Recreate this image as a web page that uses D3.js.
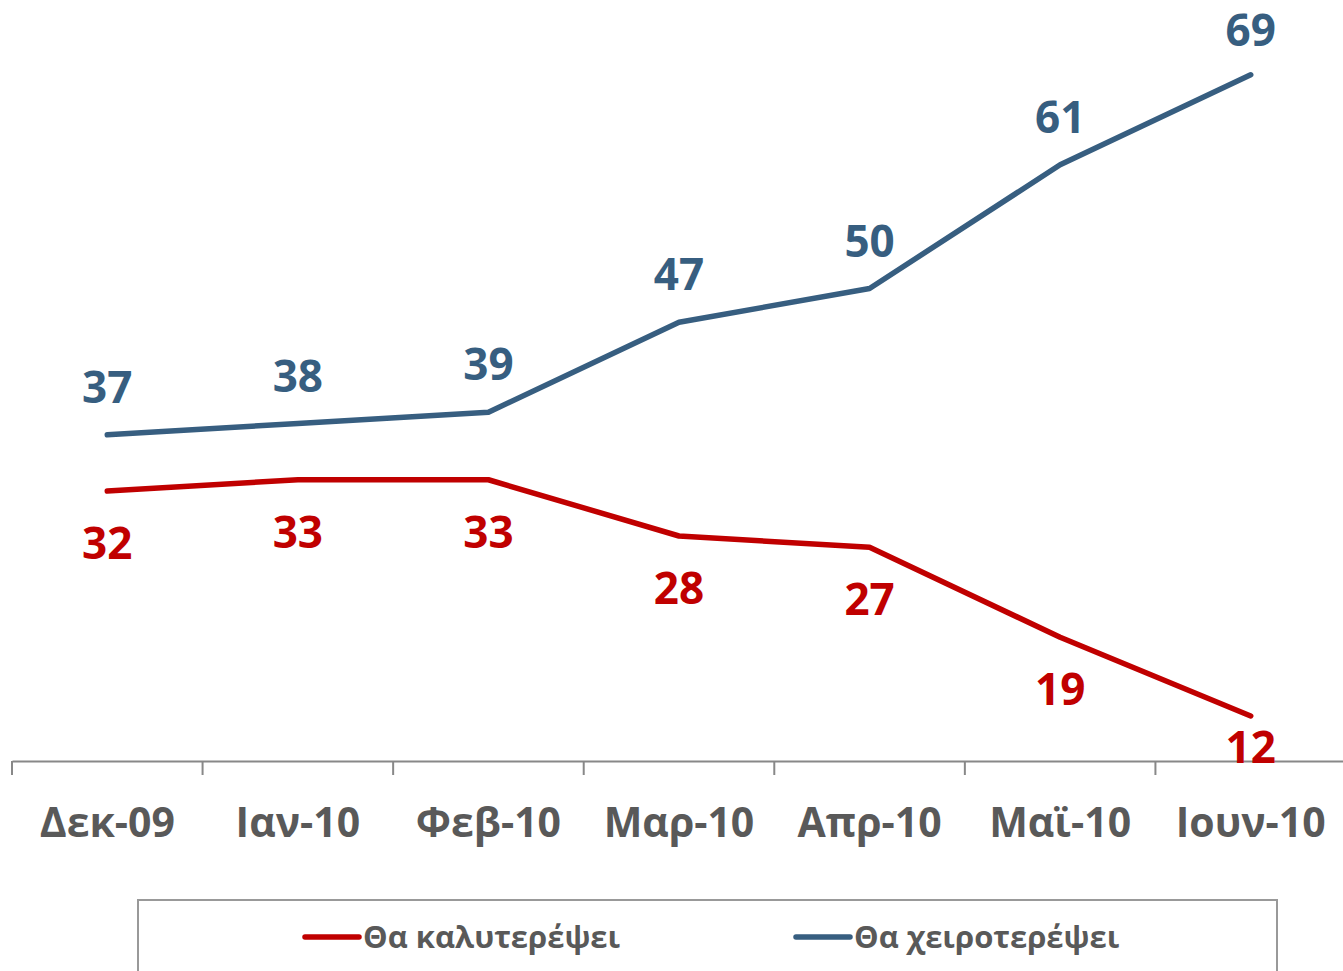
<!DOCTYPE html>
<html>
<head>
<meta charset="utf-8">
<script src="https://cdn.jsdelivr.net/npm/d3@7"></script>
<style>
  body { margin: 0; background: #fff; }
  svg text { font-family: "Open Sans", "Noto Sans", sans-serif; font-weight: bold; }
</style>
</head>
<body>
<svg id="chart" width="1343" height="971"></svg>
<script>
// data
months = ["Δεκ-09", "Ιαν-10", "Φεβ-10", "Μαρ-10", "Απρ-10", "Μαϊ-10", "Ιουν-10"];
better = [32, 33, 33, 28, 27, 19, 12];
worse = [37, 38, 39, 47, 50, 61, 69];
seriesNames = ["Θα καλυτερέψει", "Θα χειροτερέψει"];
colors = ["#c00000", "#375e80"];

let svg = d3.select("#chart");
let axisY = 761;

let x = d3.scaleBand()
    .domain(months)
    .range([12, 1346]);

let y = d3.scaleLinear()
    .domain([8, 76])
    .range([axisY, axisY - 68 * 11.25]);

let cx = function(d, i){ return x(months[i]) + x.bandwidth() / 2; };

// x axis
let xAxis = d3.axisBottom(x).tickSizeOuter(0).tickSizeInner(0).tickPadding(0);
let gx = svg.append("g")
    .attr("transform", "translate(0," + axisY + ")")
    .call(xAxis);
gx.select(".domain").attr("stroke", "#888").attr("stroke-width", 2);
gx.selectAll(".tick text")
    .attr("y", 76)
    .attr("dy", 0)
    .attr("fill", "#595959")
    .style("font-size", "41px");
gx.selectAll(".tick line").remove();
// tick marks sit between the categories
svg.append("g").selectAll("line")
    .data(months.concat(["end"]))
    .enter().append("line")
    .attr("x1", function(d, i){ return 12 + i * x.step(); })
    .attr("x2", function(d, i){ return 12 + i * x.step(); })
    .attr("y1", axisY)
    .attr("y2", axisY + 14)
    .attr("stroke", "#888")
    .attr("stroke-width", 2);

let line = d3.line()
    .x(function(d, i){ return cx(d, i); })
    .y(function(d){ return y(d); });

[better, worse].forEach(function(vals, s){
    svg.append("path")
        .datum(vals)
        .attr("d", line)
        .attr("fill", "none")
        .attr("stroke", colors[s])
        .attr("stroke-width", 5.5)
        .attr("stroke-linecap", "round")
        .attr("stroke-linejoin", "round");

    svg.append("g").selectAll("text")
        .data(vals)
        .enter().append("text")
        .attr("x", cx)
        .attr("y", function(d){
            if (s === 0) return Math.min(y(d) + 68, axisY + 2);
            return Math.max(y(d) - 32, 46);
        })
        .attr("text-anchor", "middle")
        .attr("fill", colors[s])
        .style("font-size", "44px")
        .text(function(d){ return d; });
});

// legend
svg.append("rect")
    .attr("x", 138)
    .attr("y", 900)
    .attr("width", 1139)
    .attr("height", 90)
    .attr("fill", "none")
    .attr("stroke", "#999")
    .attr("stroke-width", 2);

let legendX = [305, 796];
seriesNames.forEach(function(name, s){
    let g = svg.append("g").attr("transform", "translate(" + legendX[s] + ",937)");
    g.append("line")
        .attr("x1", 0).attr("x2", 54)
        .attr("stroke", colors[s])
        .attr("stroke-width", 5.5)
        .attr("stroke-linecap", "round");
    g.append("text")
        .attr("x", 58)
        .attr("y", 11)
        .attr("fill", "#595959")
        .style("font-size", "31px")
        .text(name);
});
</script>
</body>
</html>
